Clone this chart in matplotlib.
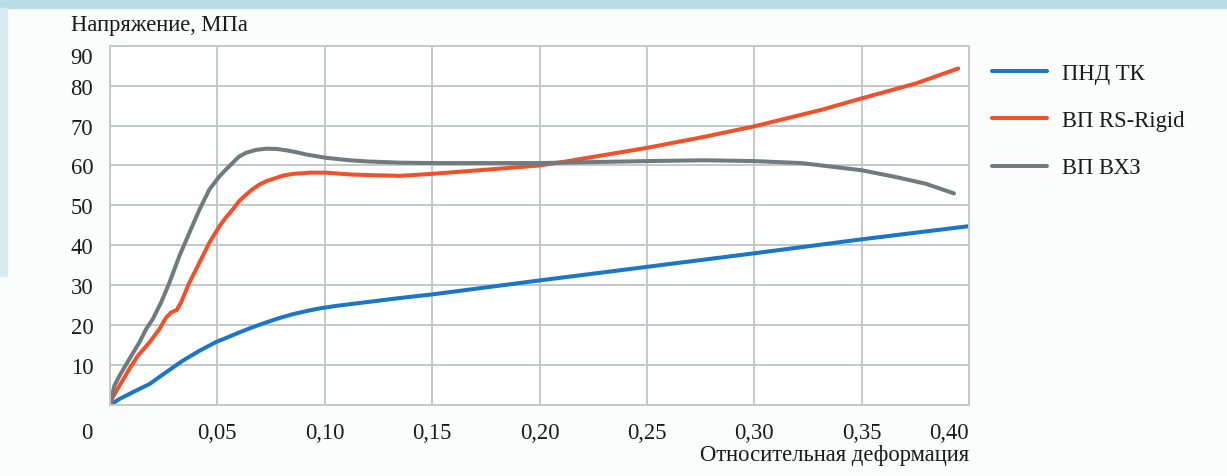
import numpy as np
import matplotlib.pyplot as plt
from matplotlib.patches import Rectangle
from matplotlib.transforms import ScaledTranslation

plt.rcParams['font.family'] = ['Liberation Serif', 'DejaVu Serif']

# ПНД ТК
x_pnd = [0, 0.0044, 0.0106, 0.0184, 0.0261, 0.0339, 0.0417, 0.0495, 0.055, 0.0603,
         0.066, 0.0728, 0.079, 0.0852, 0.092, 0.0977, 0.105, 0.1117, 0.12, 0.135,
         0.15, 0.20, 0.25, 0.30, 0.35, 0.40]
y_pnd = [0, 1.5, 3.2, 5.25, 8.2, 11.1, 13.6, 15.8, 17.0, 18.2,
         19.4, 20.7, 21.8, 22.75, 23.6, 24.2, 24.8, 25.25, 25.8, 26.8,
         27.7, 31.2, 34.6, 38.0, 41.5, 44.8]

# ВП RS-Rigid
x_rs = [0, 0.0012, 0.0044, 0.009, 0.0129, 0.0184, 0.023, 0.0261, 0.0285, 0.0311,
        0.0331, 0.037, 0.0417, 0.0463, 0.051, 0.054, 0.0572, 0.060, 0.0635, 0.0665,
        0.0697, 0.073, 0.0774, 0.081, 0.0852, 0.093, 0.1008, 0.1117, 0.12, 0.135,
        0.15, 0.1706, 0.20, 0.21, 0.25, 0.2774, 0.30, 0.331, 0.35, 0.375, 0.395]
y_rs = [0, 1.9, 4.8, 9.0, 12.3, 15.7, 19.0, 21.9, 23.2, 23.8,
        25.7, 30.7, 35.7, 40.7, 44.8, 47.0, 49.0, 51.0, 52.75, 54.1,
        55.25, 56.1, 56.9, 57.5, 57.9, 58.2, 58.2, 57.75, 57.6, 57.4,
        57.9, 58.75, 60.0, 60.8, 64.4, 67.25, 69.8, 73.9, 76.8, 80.5, 84.3]

# ВП ВХЗ
x_vhz = [0, 0.002, 0.0044, 0.009, 0.0137, 0.0168, 0.0199, 0.0238, 0.0277, 0.0323,
         0.037, 0.0417, 0.0463, 0.051, 0.054, 0.0572, 0.060, 0.0635, 0.068, 0.0728,
         0.0775, 0.0821, 0.087, 0.0914, 0.1008, 0.1117, 0.12, 0.135, 0.15, 0.20,
         0.25, 0.277, 0.30, 0.322, 0.35, 0.366, 0.38, 0.393]
y_vhz = [0, 4.8, 7.3, 11.5, 15.7, 19.0, 21.5, 25.7, 30.7, 37.3,
         43.2, 49.0, 54.0, 57.3, 59.0, 60.7, 62.2, 63.2, 63.9, 64.2,
         64.15, 63.8, 63.3, 62.75, 61.9, 61.3, 61.0, 60.7, 60.6, 60.6,
         61.1, 61.3, 61.1, 60.6, 58.8, 57.1, 55.4, 53.0]

xticks = [0, 0.05, 0.10, 0.15, 0.20, 0.25, 0.30, 0.35, 0.40]
xticklabels = ['0', '0,05', '0,10', '0,15', '0,20', '0,25', '0,30', '0,35', '0,40']
yticks = [10, 20, 30, 40, 50, 60, 70, 80, 90]

c_blue = '#1a76c6'
c_orange = '#f1502a'
c_grey = '#6f7b7f'
c_grid = '#c3c9c9'
c_text = '#1a1a1a'
fs = 16.3

W, H = 1227, 477
fig = plt.figure(figsize=(W / 100, H / 100), dpi=100, facecolor='#fbfdfd')

# light blue frame of the page
fig.patches.append(Rectangle((0, 1 - 9 / H), 1, 9 / H, transform=fig.transFigure,
                             color='#b9dce8', zorder=0))
fig.patches.append(Rectangle((0, 200 / H), 7 / W, 1 - 209 / H, transform=fig.transFigure,
                             color='#d6ebf2', zorder=0))

ax = fig.add_axes([110 / W, 71 / H, 859 / W, 359.3 / H])
ax.set_facecolor('white')

kw = dict(lw=2.9, solid_capstyle='round', solid_joinstyle='round')
ax.plot(x_pnd, y_pnd, color=c_blue, label='ПНД ТК', **kw)
ax.plot(x_rs, y_rs, color=c_orange, label='ВП RS-Rigid', **kw)
ax.plot(x_vhz, y_vhz, color=c_grey, label='ВП ВХЗ', **kw)

ax.set_xlim(0, 0.40)
ax.set_ylim(0, 90)
ax.set_xticks(xticks)
ax.set_xticklabels(xticklabels)
ax.set_yticks(yticks)
ax.set_yticklabels([str(v) for v in yticks])
ax.grid(True, color=c_grid, lw=1.4)
ax.set_axisbelow(True)
for s in ax.spines.values():
    s.set_color(c_grid)
    s.set_linewidth(1.4)
ax.tick_params(length=0, labelsize=fs, colors=c_text)
ax.tick_params(axis='x', pad=12)
ax.tick_params(axis='y', pad=12)

labs = ax.get_xticklabels()
labs[0].set_ha('right')
labs[0].set_transform(labs[0].get_transform() + ScaledTranslation(-0.18, 0, fig.dpi_scale_trans))
labs[-1].set_ha('right')
ylabs = ax.get_yticklabels()
ylabs[-1].set_transform(ylabs[-1].get_transform() + ScaledTranslation(0, -0.09, fig.dpi_scale_trans))

fig.text(969 / W, 1 - 456 / H, 'Относительная деформация', ha='right', va='center',
         fontsize=fs, color=c_text)
fig.text(71 / W, 1 - 25 / H, 'Напряжение, МПа', ha='left', va='center',
         fontsize=fs, color=c_text)

fig.legend(loc='upper left', bbox_to_anchor=(972 / W, 1 - 44 / H), frameon=False,
           fontsize=fs, handlelength=2.43, handletextpad=0.66, labelspacing=1.15,
           labelcolor=c_text)

fig.savefig('out.png', dpi=100, facecolor=fig.get_facecolor())
